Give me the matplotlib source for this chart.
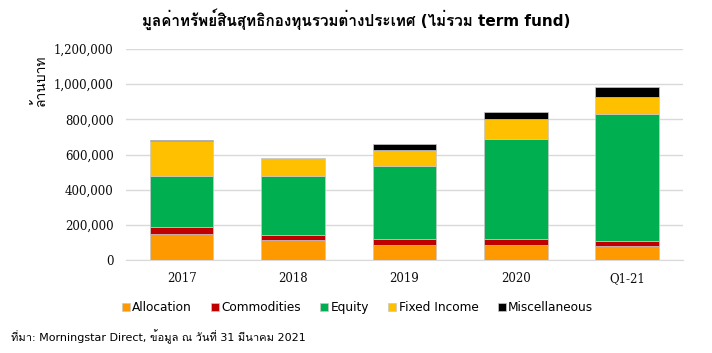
import matplotlib
matplotlib.use('Agg')
import matplotlib.pyplot as plt
from matplotlib import font_manager
from matplotlib.ft2font import FT2Font
import numpy as np

# data (THB million)
periods = ['2017', '2018', '2019', '2020', 'Q1-21']
allocation = [146000, 112000, 85000, 84000, 78000]
commodities = [40000, 29000, 33000, 34000, 28000]
equity = [289000, 334000, 419000, 573000, 722000]
fixed_income = [203000, 104000, 86000, 111000, 97000]
misc = [2000, 1000, 36000, 39000, 57000]

series = [('Allocation', allocation, '#FF9900'),
          ('Commodities', commodities, '#C00000'),
          ('Equity', equity, '#00B050'),
          ('Fixed Income', fixed_income, '#FFC000'),
          ('Miscellaneous', misc, '#000000')]


def find_thai_font():
    for f in font_manager.fontManager.ttflist:
        try:
            if FT2Font(f.fname).get_char_index(ord('ม')):
                return f.name
        except Exception:
            pass
    return None


thai = find_thai_font()
fams = ['DejaVu Sans'] + ([thai] if thai else [])
plt.rcParams['font.family'] = fams

fig = plt.figure(figsize=(7.12, 3.53), dpi=100)
ax = fig.add_axes([0.177, 0.2635, 0.782, 0.5975])

x = np.arange(len(periods))
bottom = np.zeros(len(periods))
for name, vals, col in series:
    ax.bar(x, vals, width=0.57, bottom=bottom, color=col, label=name,
           edgecolor='#c8c8c8', linewidth=0.5, zorder=3)
    bottom += np.array(vals)

ax.set_ylim(0, 1200000)
ax.set_xlim(-0.5, len(periods) - 0.5)
ax.set_yticks(np.arange(0, 1200001, 200000))
ax.yaxis.set_major_formatter(matplotlib.ticker.FuncFormatter(lambda v, p: f'{int(v):,}'))
ax.set_xticks(x)
ax.set_xticklabels(periods)
ax.grid(axis='y', color='#d9d9d9', linewidth=1, zorder=0)
for s in ['top', 'right', 'left']:
    ax.spines[s].set_visible(False)
ax.spines['bottom'].set_color('#d9d9d9')
ax.tick_params(length=0, pad=9)
for lab in ax.get_xticklabels() + ax.get_yticklabels():
    lab.set_fontfamily(['DejaVu Serif'])
    lab.set_fontsize(8.5)
    lab.set_color('#0d0d0d')

fig.text(0.5, 0.947, 'มูลค่าทรัพย์สินสุทธิกองทุนรวมต่างประเทศ (ไม่รวม term fund)',
         ha='center', va='center', fontsize=11, fontweight='bold', family=fams)
fig.text(0.056, 0.772, 'ล้านบาท', rotation=90, ha='center', va='center',
         fontsize=10, family=fams)
fig.text(0.015, 0.045, 'ที่มา: Morningstar Direct, ข้อมูล ณ วันที่ 31 มีนาคม 2021',
         ha='left', va='center', fontsize=8, family=fams)

fig.legend(loc='center', bbox_to_anchor=(0.502, 0.128), ncol=5, frameon=False,
           fontsize=8.7, handlelength=0.65, handleheight=0.65, handletextpad=0.2,
           columnspacing=1.6)

fig.savefig('out.png', dpi=100)
